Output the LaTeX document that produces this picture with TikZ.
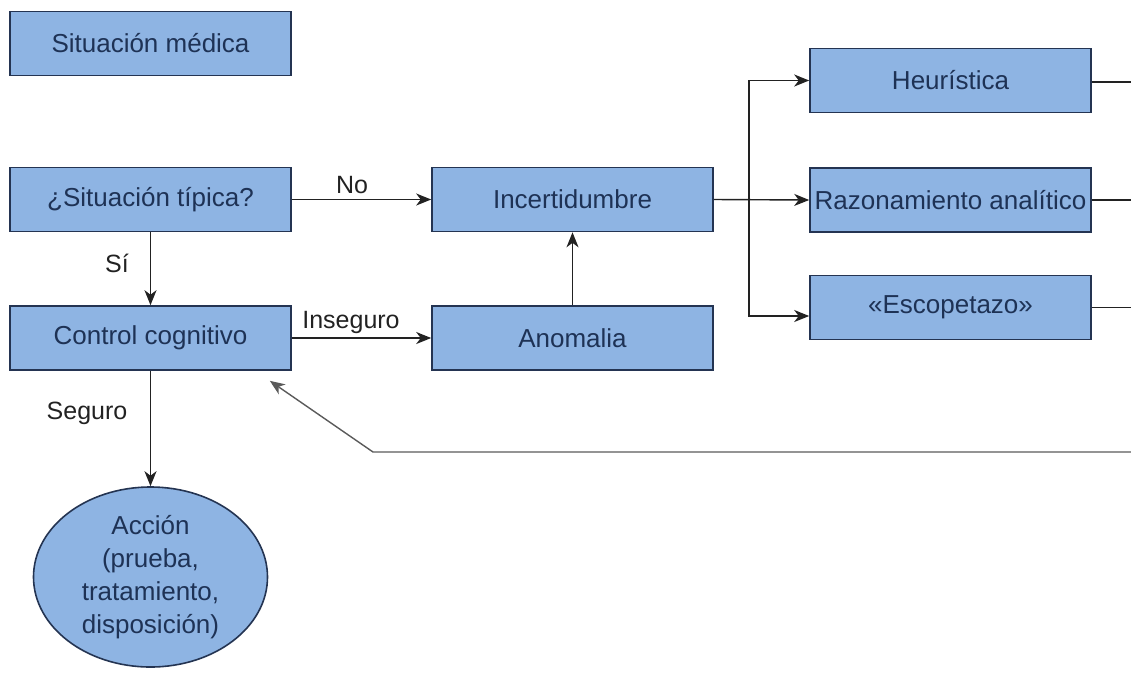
\documentclass[tikz,border=0pt]{standalone}
\usepackage{fontspec}
\setmainfont{Liberation Sans}
\usetikzlibrary{arrows.meta,shapes.geometric,calc}
\definecolor{boxfill}{RGB}{142,180,227}
\definecolor{boxline}{RGB}{36,52,82}
\definecolor{boxtext}{RGB}{30,50,85}
\definecolor{wire}{RGB}{34,34,34}
\definecolor{backwire}{RGB}{90,90,90}
\tikzset{
  stepbox/.style={draw=boxline, line width=1.6pt, fill=boxfill, text=boxtext,
    minimum width=281pt, minimum height=64pt, inner sep=0pt,
    font=\fontsize{26}{31}\selectfont},
  endbox/.style={ellipse, draw=boxline, line width=1.6pt, fill=boxfill, text=boxtext,
    minimum width=234pt, minimum height=180pt, inner sep=0pt, align=center,
    font=\fontsize{26}{33}\selectfont},
  link/.style={draw=wire, line width=1.4pt, -{Stealth[length=15pt,width=12pt,inset=4.5pt]}},
  plainlink/.style={draw=wire, line width=1.2pt},
  tag/.style={text=wire, font=\fontsize{25}{30}\selectfont, inner sep=0pt}
}
\begin{document}
\begin{tikzpicture}[x=1pt,y=-1pt]
\useasboundingbox (0,0) rectangle (1131,673);

% boxes
\node[stepbox] (med) at (150.5,43.5) {Situación médica};
\node[stepbox] (tip) at (150.5,199.5) {¿Situación típica?};
\node[stepbox] (ctl) at (150.5,338) {Control cognitivo};
\node[stepbox] (inc) at (572.5,199.5) {Incertidumbre};
\node[stepbox] (ano) at (572.5,338) {Anomalia};
\node[stepbox] (heu) at (950.5,80.5) {Heurística};
\node[stepbox] (raz) at (950.5,200) {Razonamiento analítico};
\node[stepbox] (esc) at (950.5,307.5) {«Escopetazo»};
\node[endbox] (acc) at (150.5,577) {Acción\\(prueba,\\tratamiento,\\disposición)};

% helper points
\coordinate (fork) at (749,200);
\coordinate (edge) at (1131,0);
\coordinate (back) at (1131,452);
\coordinate (bend) at (373,452);

% main flow
\draw[link] (tip.east) -- (inc.west);
\node[tag] (lno) at (352,185) {No};
\draw[link] (tip.south) -- (ctl.north);
\node[tag] (lsi) at (117,263) {Sí};
\draw[link] (ctl.east) -- (ano.west);
\node[tag] (lins) at (351,322) {Inseguro};
\draw[link] (ano.north) -- (inc.south);
\draw[link] (ctl.south) -- (acc.north);
\node[tag] (lseg) at (87,413) {Seguro};

% branching to reasoning strategies
\draw[link] (inc.east) -- (raz.west);
\draw[link] (fork) |- (heu.west);
\draw[link] (fork) |- ([yshift=-8.5pt]esc.west);

% outputs running off to the right
\draw[plainlink] ([yshift=-1.5pt]heu.east) -- ([yshift=-1.5pt]heu.east -| edge);
\draw[plainlink] (raz.east) -- (raz.east -| edge);
\draw[plainlink] (esc.east) -- (esc.east -| edge);

% feedback to cognitive control
\draw[link, draw=backwire] (back) -- (bend) -- ([xshift=-22pt,yshift=-10pt]ctl.south east);
\end{tikzpicture}
\end{document}
